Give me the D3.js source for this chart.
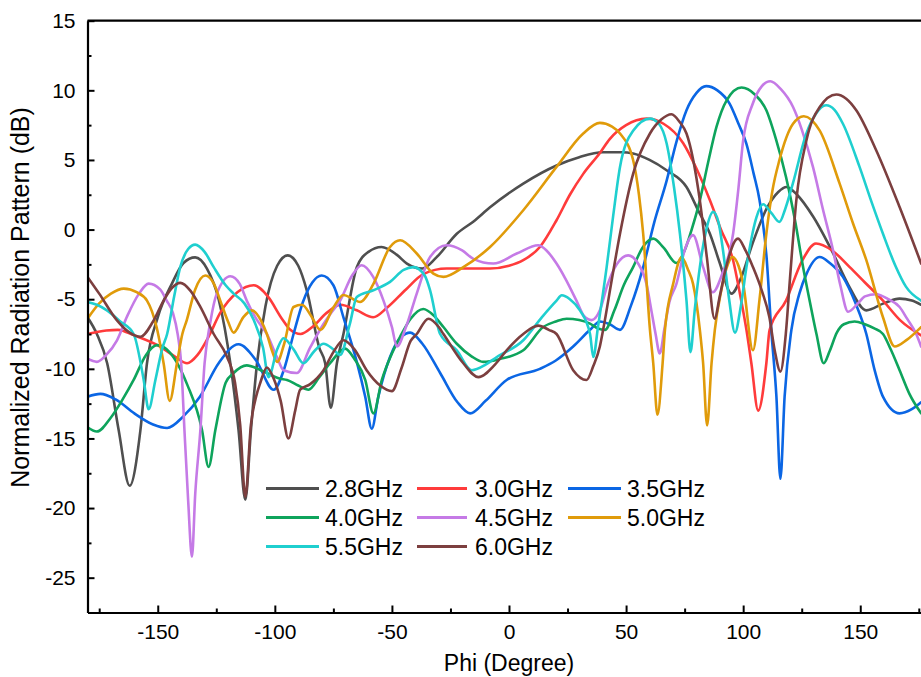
<!DOCTYPE html>
<html>
<head>
<meta charset="utf-8">
<script src="https://cdn.jsdelivr.net/npm/d3@7"></script>
<style>
  html, body { margin: 0; padding: 0; background: #fff; }
  svg { display: block; font-family: "Liberation Sans", Arial, sans-serif; }
</style>
</head>
<body>
<svg id="chart" width="921" height="677"></svg>
<script>
// ---------------- data ----------------
const seriesNames = ["2.8GHz", "3.0GHz", "3.5GHz", "4.0GHz", "4.5GHz", "5.0GHz", "5.5GHz", "6.0GHz"];
const seriesColors = ["#4f4f4f", "#ff3b3b", "#0b66e4", "#0ea45c", "#c57ae6", "#e09b0a", "#1fcfcf", "#7c3f3f"];
const xTicks = [-150, -100, -50, 0, 50, 100, 150];
const yTicks = [-25, -20, -15, -10, -5, 0, 5, 10, 15];

const s2_8 = [[-180,-6.3],[-176,-7.5],[-171.6,-9.6],[-166.7,-14.4],[-162,-18.4],[-157.4,-14.4],[-154.6,-9.6],[-150,-6.3],[-144,-3.9],[-139,-2.4],[-134,-2.0],[-129,-2.8],[-124,-5.0],[-119,-9.6],[-115.5,-14.4],[-112.6,-19.4],[-110.2,-14.4],[-107.6,-9.6],[-104,-5.5],[-99,-2.6],[-94.5,-1.85],[-90,-2.6],[-86.3,-4.4],[-81,-8.5],[-78.5,-9.6],[-76.1,-12.8],[-73.5,-9.6],[-70.7,-7.5],[-65,-2.7],[-60,-1.6],[-54.4,-1.25],[-48,-1.8],[-43.6,-2.44],[-37,-2.8],[-31,-2.0],[-22.3,-0.3],[-15,0.6],[-8.1,1.6],[6.1,3.3],[20.3,4.6],[30,5.2],[40,5.55],[48,5.55],[53,5.46],[60,5.0],[67.3,4.26],[75.8,3.06],[81,1.3],[85.8,-0.3],[90,-2.4],[95,-4.6],[99,-3.5],[104,-1.0],[110,1.5],[115,2.7],[118.5,3.06],[123,2.5],[130,0.9],[138.4,-1.7],[145,-4.0],[152.6,-5.8],[160,-5.3],[166.8,-4.96],[172,-5.1],[176,-5.4]];

const s3_0 = [[-180,-7.5],[-172,-7.25],[-167,-7.2],[-160,-7.6],[-149,-8.4],[-142,-9.2],[-137.5,-9.6],[-133,-9.0],[-128,-7.6],[-123.4,-6.0],[-116,-4.5],[-109,-4.0],[-103,-4.8],[-97,-6.4],[-93.4,-7.2],[-89,-7.5],[-84,-7.0],[-78,-6.0],[-72,-5.4],[-65,-5.8],[-58,-6.3],[-52,-5.6],[-44,-4.3],[-36.6,-3.2],[-26.6,-2.8],[-8.1,-2.8],[0,-2.6],[6.1,-2.2],[13.2,-1.25],[20.3,0.67],[26,2.5],[31.7,4.0],[38.8,5.5],[43,6.5],[50,7.5],[58.7,7.97],[66,7.6],[74.4,6.2],[80,4.4],[85.8,2.1],[90.5,0],[95.7,-2.2],[98.5,-4.5],[101.4,-7.2],[103.5,-9.6],[106.4,-13.0],[109.9,-9.6],[111.3,-7.2],[118.3,-5.1],[125,-2.3],[131.1,-1.0],[138,-1.5],[145.5,-2.7],[152,-3.8],[159.7,-5.1],[167,-6.5],[176,-7.6]];

const s3_5 = [[-180,-12.0],[-174.5,-11.8],[-168,-12.2],[-160,-13.2],[-152,-14.0],[-146,-14.25],[-139,-13.4],[-132,-12.0],[-124,-9.6],[-115.5,-8.24],[-108,-9.4],[-100.5,-11.5],[-96,-10.0],[-92,-7.5],[-88,-5.2],[-84,-3.8],[-80,-3.3],[-75,-4.0],[-70.7,-6.3],[-65,-9.5],[-61.4,-12.0],[-58.6,-14.3],[-55.8,-12.0],[-50.8,-9.15],[-46,-7.7],[-42.2,-7.4],[-37,-8.2],[-29.4,-10.3],[-22,-12.4],[-16.6,-13.2],[-10,-12.3],[-1,-10.8],[13.2,-10.0],[20,-9.4],[27.4,-8.4],[34.6,-7.2],[38.8,-6.6],[43,-6.8],[47.4,-7.2],[52,-5.5],[57.3,-2.7],[62,0.5],[67.3,3.5],[71.5,6.3],[75.8,8.57],[80,9.8],[84.2,10.3],[89,10.0],[94.2,9.05],[98,7.6],[101.3,6.2],[104.5,4.0],[107,2.1],[110,-2.0],[112,-7.2],[114.2,-12.0],[115.9,-17.9],[117.7,-12.0],[120.6,-7.2],[124,-4.6],[127,-3.2],[132.7,-1.97],[137,-2.4],[142.6,-3.4],[148,-5.3],[152.6,-7.5],[156,-10.0],[159.7,-12.0],[166.8,-13.2],[172,-12.9],[176,-12.4]];

const s4_0 = [[-180,-14.2],[-176,-14.5],[-170,-13.5],[-165,-12.2],[-160.3,-10.8],[-155,-9.0],[-150.3,-8.3],[-145,-8.8],[-141,-9.8],[-137.5,-11.1],[-131.1,-14.4],[-128.3,-17.05],[-125.4,-14.4],[-121,-11.0],[-117.6,-10.3],[-112,-9.75],[-106,-10.1],[-103.4,-10.3],[-98,-10.7],[-94.8,-10.8],[-90,-11.2],[-85.6,-11.5],[-81,-10.6],[-76.4,-9.6],[-70,-8.55],[-66,-9.3],[-61.4,-10.8],[-57.9,-13.2],[-54.3,-10.8],[-50,-8.9],[-46.5,-7.7],[-42,-6.4],[-36.6,-5.7],[-32,-6.2],[-28,-7.0],[-22.3,-8.2],[-16,-9.1],[-11,-9.5],[-4,-9.3],[6.1,-8.67],[14.6,-7.0],[20,-6.6],[24.6,-6.4],[30,-6.5],[34.6,-6.75],[38,-7.1],[41,-7.2],[45,-5.8],[49,-4.0],[53,-2.7],[57,-1.3],[61.6,-0.65],[66,-1.3],[71.5,-2.4],[75,-1.5],[78,0],[81.5,2.1],[85,4.8],[88.6,7.37],[93,9.3],[99.3,10.2],[105,9.7],[109.9,8.57],[114,6.5],[118.3,3.78],[122,0.8],[125.6,-2.7],[128.5,-5.2],[131.3,-7.5],[134.4,-9.6],[137,-8.7],[140,-7.4],[143,-6.8],[147.6,-6.6],[152,-6.8],[156,-7.1],[159.7,-7.5],[163,-8.6],[166.8,-10.1],[171,-11.8],[176,-13.2]];

const s4_5 = [[-180,-9.27],[-176,-9.5],[-172,-9.0],[-167.4,-7.95],[-163,-6.2],[-158,-4.6],[-153.9,-3.88],[-149,-4.3],[-146.2,-5.1],[-143.5,-6.0],[-141.5,-7.5],[-140,-9.6],[-138.6,-14.4],[-137,-19.5],[-135.4,-23.5],[-134,-19.0],[-131.8,-14.4],[-130,-9.6],[-127.5,-6.6],[-124.8,-4.6],[-119,-3.35],[-115,-3.9],[-112,-5.1],[-108,-6.4],[-103.4,-7.5],[-99,-9.2],[-96.3,-10.1],[-90.6,-10.3],[-85,-8.5],[-80,-7.0],[-76,-6.0],[-72.1,-5.1],[-67,-3.3],[-62.9,-2.56],[-58,-3.4],[-53.6,-5.1],[-50,-7.0],[-47.9,-8.4],[-44,-7.0],[-39.4,-4.6],[-33.7,-1.97],[-26.6,-1.13],[-20,-1.5],[-15.2,-2.1],[-6.7,-2.44],[3.3,-1.72],[12.5,-1.13],[16,-1.5],[20.3,-2.44],[24,-3.5],[28.8,-5.1],[32,-6.2],[35.3,-6.5],[38.8,-5.8],[42,-4.0],[46,-2.5],[50.9,-1.85],[55,-2.4],[58.7,-3.9],[61,-6.0],[62.6,-7.5],[64.4,-8.9],[66.3,-7.2],[68.5,-5.2],[71.5,-3.9],[75,-1.5],[78.6,-0.4],[82.9,-2.7],[87,-4.5],[91,-3.2],[95.7,-0.3],[98,3.0],[100,6.4],[104,9.0],[108,10.3],[111.6,10.65],[116,10.1],[121.3,8.8],[125,7.2],[129.8,4.5],[134,1.5],[138.4,-1.5],[141.5,-4.0],[144.8,-5.9],[149,-5.3],[152,-4.8],[156.7,-4.65],[162,-5.0],[166.8,-5.56],[170,-6.4],[173.9,-7.5],[176,-8.4]];

const s5_0 = [[-180,-6.4],[-175,-5.3],[-170,-4.6],[-164.5,-4.24],[-159,-4.5],[-154.6,-5.1],[-150.5,-7.0],[-147.5,-9.6],[-144.9,-12.3],[-141.8,-9.6],[-139.5,-7.5],[-137.6,-6.5],[-134,-4.3],[-129.7,-3.3],[-126,-3.9],[-123.3,-5.1],[-120,-6.6],[-117.6,-7.4],[-113.5,-6.3],[-109.8,-5.8],[-106,-6.5],[-103.4,-7.5],[-101,-8.8],[-99,-9.5],[-96,-8.2],[-92,-5.56],[-88.4,-5.4],[-84.5,-6.2],[-80.6,-7.2],[-75,-5.6],[-70.7,-4.7],[-66.5,-5.0],[-63.6,-5.2],[-57.9,-3.9],[-50.8,-1.25],[-46.5,-0.77],[-39.4,-1.72],[-32.3,-3.16],[-28,-3.4],[-19.5,-2.7],[-8.1,-1.25],[6.1,1.39],[20.3,4.5],[31.7,6.9],[38.8,7.66],[44,7.4],[47.4,6.9],[53,5.0],[55.5,2.5],[57.3,-0.3],[60.2,-7.2],[61.6,-9.6],[63.4,-13.3],[65.6,-9.6],[66.6,-7.2],[70.1,-3.9],[73.7,-2.0],[76.5,-2.9],[78.6,-3.9],[81.5,-7.2],[82.9,-9.6],[84.6,-14.06],[86.5,-9.6],[87.9,-7.2],[90.5,-4.5],[93.6,-2.44],[95.4,-1.97],[98,-2.6],[100,-3.9],[104.2,-8.67],[107,-5.0],[109.9,-0.3],[112.5,2.8],[115.5,5.0],[121.3,7.6],[125.9,8.14],[132.7,7.1],[141.2,3.3],[147,0.4],[152.6,-2.2],[159.7,-6.3],[164.7,-8.4],[170,-7.9],[176,-7.0]];

const s5_5 = [[-180,-5.2],[-176,-5.4],[-171.7,-5.8],[-166,-6.6],[-160.3,-7.5],[-156,-10.8],[-153.9,-12.9],[-151,-10.8],[-148,-8.5],[-146,-7.5],[-143,-4.8],[-140.4,-2.7],[-137,-1.4],[-134,-1.08],[-130,-1.6],[-126.1,-2.7],[-121,-4.0],[-117.6,-4.6],[-113,-5.3],[-109,-6.5],[-105,-8.5],[-102.7,-10.6],[-99,-8.6],[-96.3,-7.8],[-92,-8.6],[-87.8,-9.6],[-83,-8.7],[-79.2,-8.2],[-75,-8.6],[-72.1,-9.0],[-68,-6.8],[-65,-4.84],[-57.9,-4.36],[-50.8,-3.76],[-45,-2.9],[-40.8,-2.7],[-36,-3.3],[-33.7,-4.36],[-29.4,-7.5],[-22.3,-8.67],[-15.9,-10.1],[-10,-9.7],[-5.2,-9.15],[6.1,-7.95],[14,-6.3],[20.3,-5.1],[22.5,-4.72],[26,-5.0],[30.3,-5.8],[34.6,-7.5],[36,-9.15],[38,-7.0],[41.7,-2.7],[44.5,1.0],[47.4,4.5],[53,7.1],[60.2,7.97],[64,7.6],[67.3,6.2],[70.5,3.0],[73,-0.3],[75.8,-5.1],[77.5,-8.8],[79.3,-5.8],[81.5,-2.7],[84,-0.2],[87.2,1.27],[89.5,0.5],[91.4,-1.5],[94,-5.0],[96.5,-7.4],[99,-5.5],[101.4,-2.7],[105.7,0.9],[108.5,1.82],[112,1.2],[115.5,0.55],[118,1.5],[121.2,3.3],[127,6.9],[131,8.3],[135.4,8.93],[139,8.6],[142.6,7.6],[149.7,4.5],[155,1.9],[159.7,-0.3],[165,-2.6],[169.5,-4.1],[176,-5.1]];

const s6_0 = [[-180,-3.4],[-175,-4.6],[-167.5,-6.5],[-162,-7.4],[-157.4,-7.7],[-152,-6.6],[-147.5,-5.1],[-144,-4.2],[-140.4,-3.83],[-136,-4.4],[-131.8,-5.56],[-126.1,-7.5],[-120.4,-9.15],[-117,-11.0],[-114.8,-14.0],[-112.6,-19.2],[-110.2,-14.0],[-108,-12.0],[-106.2,-11.0],[-103.4,-9.9],[-100.5,-10.7],[-97.5,-12.3],[-94.2,-15.0],[-91.3,-13.0],[-89.2,-11.5],[-84.9,-11.1],[-79.2,-10.1],[-75,-8.8],[-70.7,-7.95],[-66,-8.6],[-60.8,-10.1],[-55,-11.2],[-50,-11.6],[-46,-10.0],[-42,-8.0],[-39.4,-7.5],[-34.4,-6.4],[-30,-7.0],[-28,-7.5],[-19.5,-9.6],[-13.1,-10.6],[-6,-9.7],[-1,-8.67],[6.1,-7.5],[12.5,-6.9],[17,-7.2],[20.3,-7.5],[27.4,-10.1],[33.1,-10.8],[36,-9.8],[38.8,-8.4],[40.2,-7.2],[44,-3.5],[47.4,-0.3],[53,4.0],[60.2,6.9],[65,7.9],[69.4,8.28],[73,7.7],[75.8,6.9],[81.5,2.1],[84.5,-2.0],[87.8,-6.4],[90,-4.8],[92.7,-2.7],[97.8,-0.65],[101,-1.5],[104.2,-2.7],[108,-4.4],[111.2,-6.3],[113.5,-8.7],[115.9,-10.2],[118.2,-7.5],[120,-3.5],[122.7,2.1],[127,6.4],[132.7,8.8],[139.8,9.7],[144,9.4],[148.3,8.57],[156.8,5.7],[166.8,1.62],[176,-2.44]];

const seriesData = [s2_8, s3_0, s3_5, s4_0, s4_5, s5_0, s5_5, s6_0];

// ---------------- layout ----------------
const svg = d3.select("#chart");
const L = 87.5, R = 930.5, T = 20.7, B = 612.5;
const x = d3.scaleLinear().domain([-180, 180]).range([L, R]);
const y = d3.scaleLinear().domain([-27.5, 15]).range([B, T]);
const FONT = '"Liberation Sans", Arial, sans-serif';

svg.append("rect").attr("width", 921).attr("height", 677).attr("fill", "#fff");

svg.append("defs").append("clipPath").attr("id", "clip")
  .append("rect").attr("x", L).attr("y", T).attr("width", R - L).attr("height", B - T);

// curves
const line = d3.line().x(d => x(d[0])).y(d => y(d[1])).curve(d3.curveMonotoneX);
const gLines = svg.append("g").attr("clip-path", "url(#clip)");
seriesData.forEach((s, i) => {
  gLines.append("path").datum(s).attr("d", line)
    .attr("fill", "none").attr("stroke", seriesColors[i])
    .attr("stroke-width", 2.6).attr("stroke-linejoin", "round").attr("stroke-linecap", "round");
});

// frame (top and right)
svg.append("line").attr("x1", L).attr("x2", R).attr("y1", T).attr("y2", T)
  .attr("stroke", "#000").attr("stroke-width", 2.2);
svg.append("line").attr("x1", R).attr("x2", R).attr("y1", T).attr("y2", B)
  .attr("stroke", "#000").attr("stroke-width", 2.2);

// minor ticks
const xMinor = d3.range(-175, 180, 25).filter(v => v % 50 !== 0);
const yMinor = d3.range(-22.5, 15, 5);
svg.append("g").attr("transform", `translate(0,${B})`)
  .call(d3.axisBottom(x).tickValues(xMinor).tickSize(-4).tickSizeOuter(0).tickFormat(""))
  .call(g => g.select(".domain").remove())
  .call(g => g.selectAll("line").attr("stroke-width", 2));
svg.append("g").attr("transform", `translate(${L},0)`)
  .call(d3.axisLeft(y).tickValues(yMinor).tickSize(-4).tickSizeOuter(0).tickFormat(""))
  .call(g => g.select(".domain").remove())
  .call(g => g.selectAll("line").attr("stroke-width", 2));

// major axes
const xAxis = svg.append("g").attr("transform", `translate(0,${B})`)
  .call(d3.axisBottom(x).tickValues(xTicks).tickSize(-7).tickSizeOuter(0).tickPadding(12).tickFormat(d3.format("d")));
const yAxis = svg.append("g").attr("transform", `translate(${L},0)`)
  .call(d3.axisLeft(y).tickValues(yTicks).tickSize(-7).tickSizeOuter(0).tickPadding(12).tickFormat(d3.format("d")));
[xAxis, yAxis].forEach(g => {
  g.select(".domain").attr("stroke-width", 2.2);
  g.selectAll(".tick line").attr("stroke-width", 2);
  g.selectAll("text").attr("font-size", 21).attr("font-family", FONT).attr("fill", "#000");
});
xAxis.selectAll(".tick text").text(d => d3.format("d")(d).replace("−", "-"));
yAxis.selectAll(".tick text").text(d => d3.format("d")(d).replace("−", "-"));

// axis titles
svg.append("text").attr("x", 509).attr("y", 671).attr("text-anchor", "middle")
  .attr("font-size", 23).attr("font-family", FONT).text("Phi (Degree)");
svg.append("text").attr("transform", "translate(29,297.5) rotate(-90)").attr("text-anchor", "middle")
  .attr("font-size", 25).attr("font-family", FONT).text("Normalized Radiation Pattern (dB)");

// legend
const legCols = [[266, 319, 325], [417, 467, 475], [568, 621, 627]];
const legRows = [488.5, 517.5, 546.5];
seriesNames.forEach((name, i) => {
  const c = legCols[i % 3], r = legRows[Math.floor(i / 3)];
  svg.append("line").attr("x1", c[0]).attr("x2", c[1]).attr("y1", r).attr("y2", r)
    .attr("stroke", seriesColors[i]).attr("stroke-width", 3);
  svg.append("text").attr("x", c[2]).attr("y", r).attr("dy", "0.35em")
    .attr("font-size", 23).attr("font-family", FONT).text(name);
});
</script>
</body>
</html>
